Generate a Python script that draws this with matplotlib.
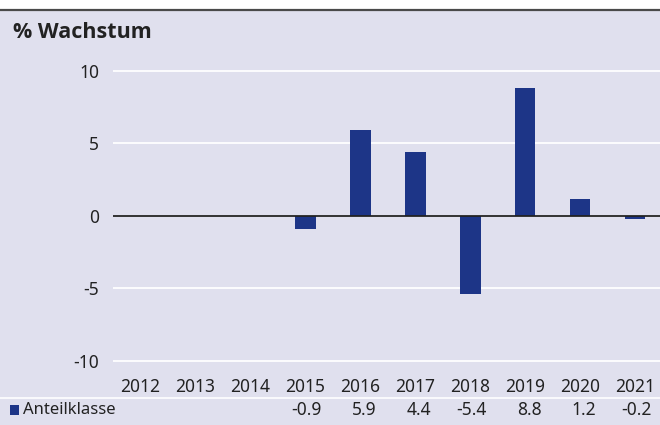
import matplotlib
matplotlib.use('Agg')
import matplotlib.pyplot as plt
from matplotlib.patches import Rectangle
from matplotlib.lines import Line2D
import matplotlib.transforms as mtransforms

plt.rcParams['font.family'] = 'Noto Sans'
plt.rcParams['axes.unicode_minus'] = False

# Daten
jahre = ['2012', '2013', '2014', '2015', '2016', '2017', '2018', '2019', '2020', '2021']
werte = [None, None, None, -0.9, 5.9, 4.4, -5.4, 8.8, 1.2, -0.2]
serie = 'Anteilklasse'
titel = '% Wachstum'

bg = '#e0e0ee'
blau = '#1d3587'
txt = '#222222'

fig = plt.figure(figsize=(6.6, 4.25), dpi=100, facecolor=bg)
W, H = 660, 425

# weisser Streifen oben + obere Linie
fig.patches.append(Rectangle((0, 1 - 10 / H), 1, 10 / H, transform=fig.transFigure,
                             facecolor='white', edgecolor='none'))
fig.lines.append(Line2D([0, 1], [1 - 10 / H, 1 - 10 / H], transform=fig.transFigure,
                        color='#4a4a4a', lw=1.6))
# weisse Trennlinie ueber der Tabellenzeile
fig.lines.append(Line2D([0, 1], [1 - 398 / H, 1 - 398 / H], transform=fig.transFigure,
                        color='white', lw=1.2))

fig.text(13 / W, 1 - 33 / H, titel, fontsize=15.5, fontweight='bold', color=txt,
         va='center', ha='left', family='Open Sans')

ax = fig.add_axes([113 / W, 1 - 372 / H, 547 / W, 320 / H])
ax.set_facecolor('none')

x = list(range(len(jahre)))
for i, v in enumerate(werte):
    if v is not None:
        ax.bar(i, v, width=0.37, color=blau, zorder=3)

ax.set_xlim(-0.5, 9.45)
ax.set_ylim(-10.76, 11.3)
ax.set_yticks([-10, -5, 0, 5, 10])
ax.set_yticklabels(['-10', '-5', '0', '5', '10'])
ax.grid(axis='y', color='white', lw=1.3, zorder=1)
ax.axhline(0, color='#222222', lw=1.3, zorder=4)
ax.set_xticks(x)
ax.set_xticklabels(jahre)
ax.tick_params(axis='both', length=0, labelsize=12.5, colors=txt)
ax.tick_params(axis='y', pad=10)
ax.tick_params(axis='x', pad=4)
for s in ax.spines.values():
    s.set_visible(False)

# Tabellenzeile
trans = mtransforms.blended_transform_factory(ax.transData, fig.transFigure)
ty = 1 - 410 / H
fig.patches.append(Rectangle((10 / W, ty - 5 / H), 9 / W, 10 / H, transform=fig.transFigure,
                             facecolor=blau, edgecolor='none'))
fig.text(23 / W, ty, serie, fontsize=12, color=txt, va='center', ha='left')
for i, v in enumerate(werte):
    if v is not None:
        ax.text(i + 0.29, ty, f'{v:.1f}', transform=trans, fontsize=12.5, color=txt,
                va='center', ha='right')

fig.savefig('out.png', dpi=100, facecolor=bg)
